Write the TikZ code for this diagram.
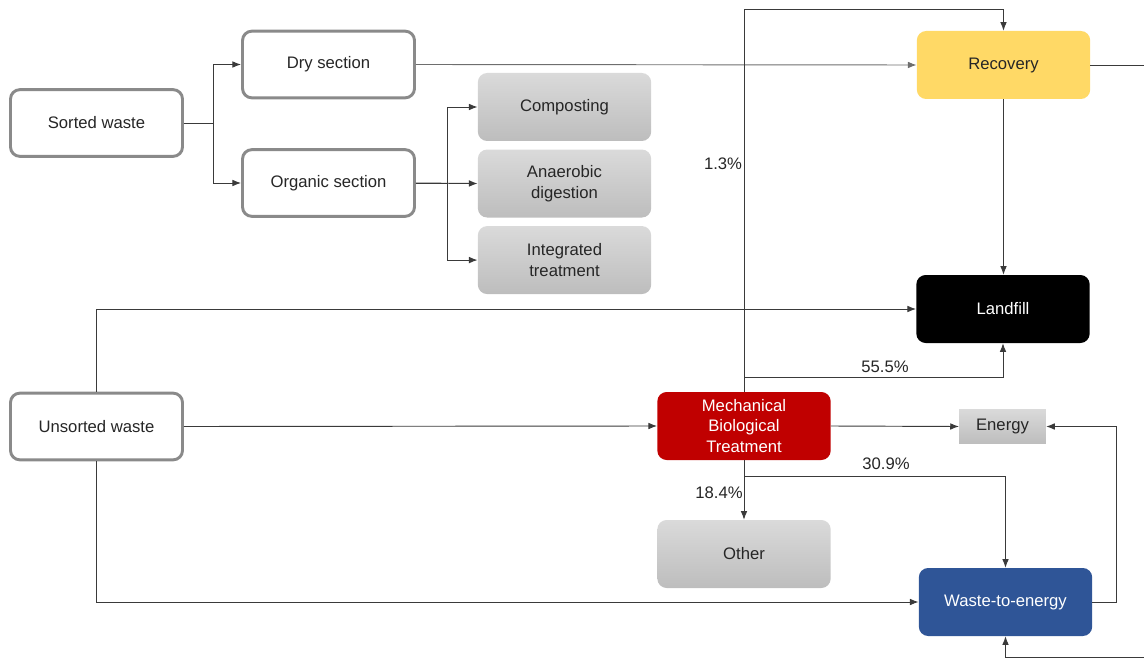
\documentclass[tikz,border=0pt]{standalone}
\usepackage{fontspec}
\setmainfont{Liberation Sans}
\usepackage{xcolor}
\usetikzlibrary{positioning}
\usetikzlibrary{arrows.meta}

\definecolor{boxborder}{HTML}{8A8A8A}
\definecolor{flowline}{HTML}{3A3A3A}
\definecolor{shadetop}{HTML}{DADADA}
\definecolor{shadebottom}{HTML}{BDBDBD}
\definecolor{recoveryyellow}{HTML}{FFD966}
\definecolor{mbtred}{HTML}{C00000}
\definecolor{wteblue}{HTML}{2F5597}
\definecolor{labeltext}{HTML}{262626}

\begin{document}
\begin{tikzpicture}[x=0.75pt, y=-0.75pt, >={Latex[length=6.5pt,width=5pt]},
        font=\fontsize{12.5}{15.5}\selectfont, text=labeltext,
        flow/.style={->, draw=flowline, line width=0.7pt},
        wastebox/.style={draw=boxborder, line width=2.2pt, rounded corners=7pt,
            fill=white, minimum width=129pt, minimum height=50pt, align=center},
        greybox/.style={rounded corners=7pt, top color=shadetop, bottom color=shadebottom,
            minimum width=130pt, minimum height=51pt, align=center},
        fillbox/.style={rounded corners=7pt, minimum width=130pt, minimum height=51pt,
            align=center, text=white}]
    \useasboundingbox (0,0) rectangle (1144,659);

    % sources and sections
    \node [wastebox] (sorted) at (96.5,123) {Sorted waste};
    \node [wastebox] (dry) at (328.5,64.5) {Dry section};
    \node [wastebox] (organic) at (328.5,183) {Organic section};
    \node [wastebox] (unsorted) at (96.5,426.5) {Unsorted waste};

    % organic treatments
    \node [greybox] (compost) at (564.5,107) {Composting};
    \node [greybox, below=6pt of compost] (anaerobic) {Anaerobic\\digestion};
    \node [greybox, below=6pt of anaerobic] (integrated) {Integrated\\treatment};

    % destinations
    \node [fillbox, fill=recoveryyellow, text=labeltext] (recovery) at (1003.5,65) {Recovery};
    \node [fillbox, fill=black] (landfill) at (1003,309) {Landfill};
    \node [fillbox, fill=mbtred] (mbt) at (744,426) {Mechanical\\Biological\\Treatment};
    \node [greybox] (other) at (744,554) {Other};
    \node [fillbox, fill=wteblue] (wte) at (1005.5,602) {Waste-to-energy};
    \node [top color=shadetop, bottom color=shadebottom, minimum width=65pt,
        minimum height=26pt] (energy) at (1002.5,426.5) {Energy};

    % sorted waste
    \draw [flow] (sorted.east) -- ++(29,0) |- (dry.west);
    \draw [flow] (sorted.east) -- ++(29,0) |- (organic.west);
    \draw [flow] (organic.east) -- ++(31,0) |- (compost.west);
    \draw [flow] (organic.east) -- (anaerobic.west);
    \draw [flow] (organic.east) -- ++(31,0) |- (integrated.west);
    \draw [flow, draw=boxborder!80!black] (dry.east) -- (recovery.west);

    % unsorted waste
    \draw [flow] (unsorted.north) |- (landfill.west);
    \draw [flow] (unsorted.east) -- (mbt.west);
    \draw [flow] (unsorted.south) |- (wte.west);

    % mechanical biological treatment
    \draw [flow] (mbt.north) -- ++(0,-382) -| (recovery.north);
    \draw [flow] (mbt.north) ++(0,-14) -| (landfill.south);
    \draw [flow] (mbt.east) -- (energy.west);
    \draw [flow] (mbt.south) -- (other.north);
    \draw [flow] (mbt.south) ++(0,16) -| (wte.north);

    % recovery and energy
    \draw [flow] (recovery.south) -- (recovery.south |- landfill.north);
    \draw [flow] (wte.east) -- ++(24,0) |- (energy.east);
    \draw [flow] (recovery.east) -- ++(70,0) -- ++(0,592) -| (wte.south);

    % shares
    \node (share13) at (723,164) {1.3\%};
    \node (share555) at (885,367) {55.5\%};
    \node (share309) at (886,464) {30.9\%};
    \node (share184) at (719,493) {18.4\%};
\end{tikzpicture}
\end{document}
